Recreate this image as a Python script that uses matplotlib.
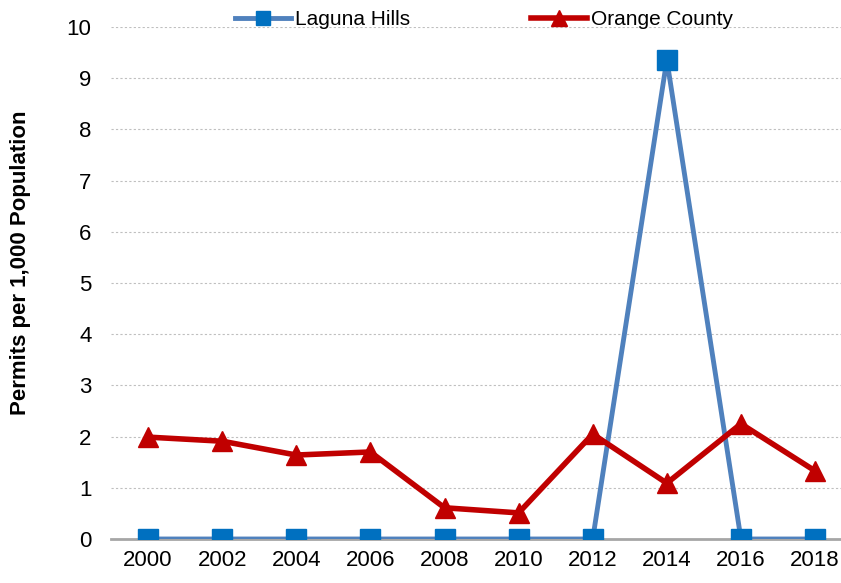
import numpy as np
import matplotlib.pyplot as plt

years = ['2000', '2002', '2004', '2006', '2008', '2010', '2012', '2014', '2016', '2018']
laguna_hills = [0, 0, 0, 0, 0, 0, 0, 9.36, 0, 0]
orange_county = [1.99, 1.91, 1.64, 1.70, 0.61, 0.51, 2.05, 1.09, 2.25, 1.33]

plt.rcParams['font.family'] = ['Liberation Sans', 'DejaVu Sans']

fig = plt.figure(figsize=(8.41, 5.83), dpi=100)
ax = fig.add_axes([111/841, 44/583, (841-111)/841, 512/583])

x = np.arange(len(years))
ax.plot(x, laguna_hills, color='#4F81BD', lw=3.5, marker='s', ms=14,
        mfc='#0070C0', mec='#0070C0', label='Laguna Hills', zorder=3)
ax.plot(x, orange_county, color='#C00000', lw=4, marker='^', ms=15,
        mfc='#C00000', mec='#C00000', label='Orange County', zorder=4)

ax.set_xlim(-0.5, 9.35)
ax.set_ylim(0, 10)
ax.set_yticks(range(0, 11))
ax.set_xticks(x)
ax.set_xticklabels(years)
ax.tick_params(axis='both', length=0, labelsize=16, pad=8)
ax.tick_params(axis='y', pad=14)
ax.grid(axis='y', color='#BFBFBF', ls=(0, (2, 2)), lw=0.8)
ax.set_axisbelow(True)
for s in ['top', 'right', 'left']:
    ax.spines[s].set_visible(False)
ax.spines['bottom'].set_color('#A6A6A6')
ax.spines['bottom'].set_linewidth(2)
ax.spines['bottom'].set_zorder(2)

ax.set_ylabel('Permits per 1,000 Population', fontsize=16, fontweight='bold')
ax.yaxis.set_label_coords(-0.11, 0.539)

ax.legend(loc='lower center', bbox_to_anchor=(0.511, 0.996), ncol=2, frameon=False,
          fontsize=15, handlelength=2.7, columnspacing=5.8, handletextpad=0.2,
          markerscale=0.75, borderaxespad=0, borderpad=0)

fig.savefig('out.png', dpi=100)
